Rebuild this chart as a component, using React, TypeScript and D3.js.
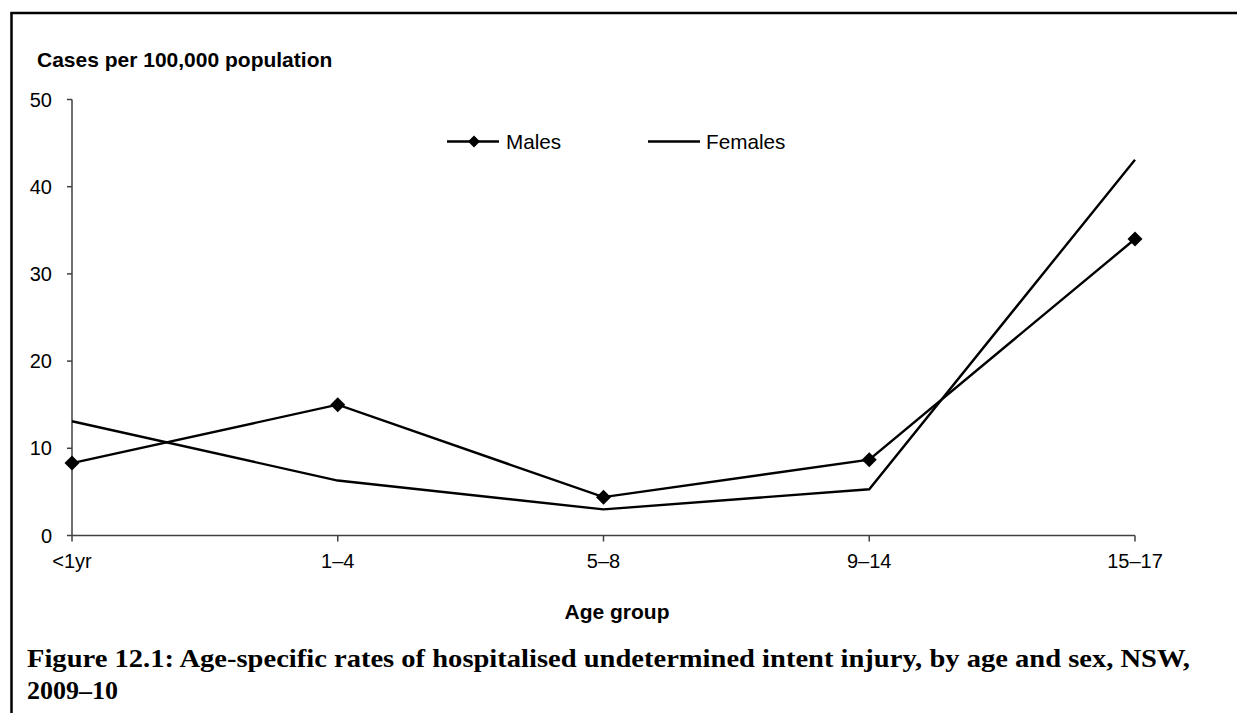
import React from "react";
import * as d3 from "d3";

const categories = ["<1yr", "1–4", "5–8", "9–14", "15–17"];
const males = [8.3, 15.0, 4.4, 8.7, 34.0];
const females = [13.1, 6.3, 3.0, 5.3, 43.1];
const yTicks = [0, 10, 20, 30, 40, 50];

const W = 1237;
const H = 713;
const x0 = 72;
const x1 = 1135;
const yTop = 99.5;
const yBot = 535.5;

export default function App() {
  const x = d3.scalePoint<string>().domain(categories).range([x0, x1]);
  const y = d3.scaleLinear().domain([0, 50]).range([yBot, yTop]);
  const line = d3
    .line<number>()
    .x((_, i) => x(categories[i]) as number)
    .y((d) => y(d));
  const diamond = (cx: number, cy: number, r: number) =>
    `M${cx},${cy - r}L${cx + r},${cy}L${cx},${cy + r}L${cx - r},${cy}Z`;
  const sans = "'Liberation Sans', Arial, sans-serif";
  const serif = "'Liberation Serif', 'Times New Roman', serif";
  const axisColor = "#404040";

  return (
    <svg
      width={W}
      height={H}
      style={{ position: "absolute", left: 0, top: 0, background: "#fff" }}
    >
      <rect x={0} y={0} width={W} height={H} fill="#fff" />
      {/* frame */}
      <line x1={11.5} y1={13} x2={11.5} y2={H} stroke="#000" strokeWidth={2.5} />
      <line x1={10.3} y1={13} x2={W} y2={13} stroke="#000" strokeWidth={2.5} />

      {/* y axis title */}
      <text x={37} y={67} fontFamily={sans} fontWeight="bold" fontSize={21} fill="#000">
        Cases per 100,000 population
      </text>

      {/* y axis */}
      <line x1={x0} y1={yTop} x2={x0} y2={yBot} stroke={axisColor} strokeWidth={1.5} />
      {yTicks.map((t) => (
        <g key={t}>
          <line x1={x0 - 5} x2={x0} y1={y(t)} y2={y(t)} stroke={axisColor} strokeWidth={1.5} />
          <text
            x={52}
            y={y(t) + 7}
            textAnchor="end"
            fontFamily={sans}
            fontSize={20}
            fill="#000"
          >
            {t}
          </text>
        </g>
      ))}

      {/* x axis */}
      <line x1={x0} y1={yBot} x2={x1} y2={yBot} stroke={axisColor} strokeWidth={1.5} />
      {categories.map((c) => (
        <g key={c}>
          <line
            x1={x(c)}
            x2={x(c)}
            y1={yBot}
            y2={yBot + 6}
            stroke={axisColor}
            strokeWidth={1.5}
          />
          <text
            x={x(c)}
            y={568}
            textAnchor="middle"
            fontFamily={sans}
            fontSize={20}
            fill="#000"
          >
            {c}
          </text>
        </g>
      ))}
      <text x={617} y={619} textAnchor="middle" fontFamily={sans} fontWeight="bold" fontSize={21} fill="#000">
        Age group
      </text>

      {/* series */}
      <path d={line(females) || ""} fill="none" stroke="#000" strokeWidth={2.4} />
      <path d={line(males) || ""} fill="none" stroke="#000" strokeWidth={2.4} />
      {males.map((v, i) => (
        <path key={i} d={diamond(x(categories[i]) as number, y(v), 7.5)} fill="#000" />
      ))}

      {/* legend */}
      <line x1={447} x2={499} y1={141.5} y2={141.5} stroke="#000" strokeWidth={2.4} />
      <path d={diamond(474, 141.5, 6)} fill="#000" />
      <text x={506} y={149} fontFamily={sans} fontSize={20.7} fill="#000">
        Males
      </text>
      <line x1={648} x2={700} y1={141.5} y2={141.5} stroke="#000" strokeWidth={2.4} />
      <text x={706} y={149} fontFamily={sans} fontSize={20.7} fill="#000">
        Females
      </text>

      {/* caption */}
      <text x={27} y={667} fontFamily={serif} fontWeight="bold" fontSize={25} fill="#000" textLength={1163} lengthAdjust="spacingAndGlyphs">
        Figure 12.1: Age-specific rates of hospitalised undetermined intent injury, by age and sex, NSW,
      </text>
      <text x={27} y={699} fontFamily={serif} fontWeight="bold" fontSize={25} fill="#000" textLength={91} lengthAdjust="spacingAndGlyphs">
        2009–10
      </text>
    </svg>
  );
}
